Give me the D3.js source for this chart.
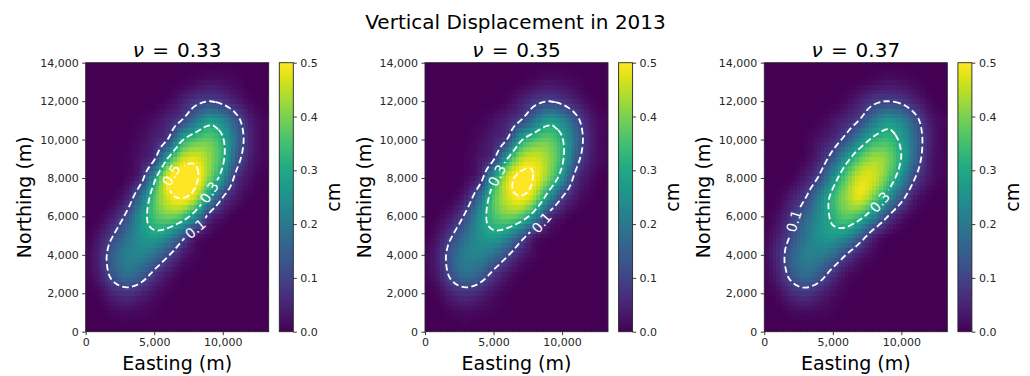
<!DOCTYPE html>
<html>
<head>
<meta charset="utf-8">
<script src="https://cdn.jsdelivr.net/npm/d3@7"></script>
<style>
  body { margin: 0; background: #fff; }
  svg { display: block; font-family: "DejaVu Sans", sans-serif; }
</style>
</head>
<body>
<div id="chart"></div>
<script>
// grid nodes every 1 km; rows listed from northing 14 km (top) down to 0 km
const eastingKm = [0, 1, 2, 3, 4, 5, 6, 7, 8, 9, 10, 11, 12, 13];
const northingKm = [14, 13, 12, 11, 10, 9, 8, 7, 6, 5, 4, 3, 2, 1, 0];

const poissonRatios = ["0.33", "0.35", "0.37"];

const displacementNu033 = [
	[0, 0, 0, 0, 0, 0, 0, 0, 0, 0, 0, 0, 0, 0],
	[0, 0, 0, 0, 0, 0, 0, 0.005, 0.015, 0.025, 0.02, 0.01, 0, 0],
	[0, 0, 0, 0, 0, 0, 0.01, 0.04, 0.08, 0.1, 0.08, 0.04, 0.01, 0],
	[0, 0, 0, 0, 0.005, 0.02, 0.05, 0.1, 0.19, 0.27, 0.23, 0.13, 0.04, 0.01],
	[0, 0, 0, 0.003, 0.015, 0.045, 0.1, 0.29, 0.36, 0.38, 0.31, 0.17, 0.05, 0.01],
	[0, 0, 0, 0.005, 0.03, 0.085, 0.31, 0.45, 0.48, 0.42, 0.32, 0.14, 0.04, 0.01],
	[0, 0, 0, 0.01, 0.06, 0.27, 0.49, 0.54, 0.52, 0.4, 0.25, 0.07, 0.02, 0],
	[0, 0, 0.005, 0.045, 0.18, 0.36, 0.47, 0.51, 0.45, 0.26, 0.1, 0.03, 0.005, 0],
	[0, 0.005, 0.04, 0.12, 0.25, 0.35, 0.39, 0.36, 0.24, 0.07, 0.02, 0, 0, 0],
	[0, 0.03, 0.1, 0.18, 0.25, 0.28, 0.24, 0.14, 0.04, 0.01, 0, 0, 0, 0],
	[0.01, 0.05, 0.15, 0.21, 0.22, 0.18, 0.11, 0.04, 0.01, 0, 0, 0, 0, 0],
	[0.005, 0.04, 0.13, 0.18, 0.15, 0.08, 0.03, 0.005, 0, 0, 0, 0, 0, 0],
	[0, 0.01, 0.05, 0.07, 0.05, 0.02, 0.005, 0, 0, 0, 0, 0, 0, 0],
	[0, 0, 0.01, 0.015, 0.01, 0.005, 0, 0, 0, 0, 0, 0, 0, 0],
	[0, 0, 0, 0, 0, 0, 0, 0, 0, 0, 0, 0, 0, 0],
];

const displacementNu035 = [
	[0, 0, 0, 0, 0, 0, 0, 0, 0, 0, 0, 0, 0, 0],
	[0, 0, 0, 0, 0, 0, 0, 0.005, 0.015, 0.025, 0.02, 0.01, 0, 0],
	[0, 0, 0, 0, 0, 0, 0.01, 0.04, 0.08, 0.1, 0.08, 0.04, 0.01, 0],
	[0, 0, 0, 0, 0.005, 0.02, 0.05, 0.1, 0.19, 0.27, 0.23, 0.13, 0.04, 0.01],
	[0, 0, 0, 0.003, 0.015, 0.045, 0.1, 0.29, 0.36, 0.38, 0.31, 0.17, 0.05, 0.01],
	[0, 0, 0, 0.005, 0.03, 0.085, 0.3, 0.44, 0.47, 0.42, 0.32, 0.14, 0.04, 0.01],
	[0, 0, 0, 0.01, 0.06, 0.27, 0.46, 0.52, 0.495, 0.4, 0.25, 0.07, 0.02, 0],
	[0, 0, 0.005, 0.045, 0.18, 0.36, 0.46, 0.5, 0.43, 0.25, 0.1, 0.03, 0.005, 0],
	[0, 0.005, 0.04, 0.12, 0.25, 0.35, 0.39, 0.36, 0.24, 0.07, 0.02, 0, 0, 0],
	[0, 0.03, 0.1, 0.18, 0.25, 0.28, 0.24, 0.14, 0.04, 0.01, 0, 0, 0, 0],
	[0.01, 0.05, 0.15, 0.21, 0.22, 0.18, 0.11, 0.04, 0.01, 0, 0, 0, 0, 0],
	[0.005, 0.04, 0.13, 0.18, 0.15, 0.08, 0.03, 0.005, 0, 0, 0, 0, 0, 0],
	[0, 0.01, 0.05, 0.07, 0.05, 0.02, 0.005, 0, 0, 0, 0, 0, 0, 0],
	[0, 0, 0.01, 0.015, 0.01, 0.005, 0, 0, 0, 0, 0, 0, 0, 0],
	[0, 0, 0, 0, 0, 0, 0, 0, 0, 0, 0, 0, 0, 0],
];

const displacementNu037 = [
	[0, 0, 0, 0, 0, 0, 0, 0, 0, 0, 0, 0, 0, 0],
	[0, 0, 0, 0, 0, 0, 0, 0.005, 0.015, 0.025, 0.02, 0.01, 0, 0],
	[0, 0, 0, 0, 0, 0, 0.015, 0.045, 0.085, 0.1, 0.085, 0.045, 0.01, 0],
	[0, 0, 0, 0, 0.005, 0.025, 0.055, 0.105, 0.2, 0.26, 0.22, 0.13, 0.04, 0.01],
	[0, 0, 0, 0.005, 0.025, 0.06, 0.13, 0.24, 0.32, 0.34, 0.28, 0.17, 0.05, 0.01],
	[0, 0, 0, 0.01, 0.05, 0.14, 0.27, 0.38, 0.43, 0.4, 0.3, 0.16, 0.04, 0.01],
	[0, 0, 0.005, 0.04, 0.11, 0.25, 0.38, 0.47, 0.46, 0.37, 0.24, 0.1, 0.03, 0.005],
	[0, 0.005, 0.04, 0.095, 0.21, 0.33, 0.42, 0.475, 0.39, 0.26, 0.13, 0.035, 0.005, 0],
	[0, 0.02, 0.08, 0.16, 0.24, 0.32, 0.37, 0.33, 0.22, 0.1, 0.03, 0.005, 0, 0],
	[0.005, 0.04, 0.11, 0.19, 0.25, 0.27, 0.24, 0.15, 0.05, 0.01, 0, 0, 0, 0],
	[0.01, 0.06, 0.15, 0.21, 0.21, 0.17, 0.095, 0.035, 0.01, 0, 0, 0, 0, 0],
	[0.005, 0.045, 0.13, 0.175, 0.14, 0.07, 0.02, 0.005, 0, 0, 0, 0, 0, 0],
	[0, 0.015, 0.055, 0.075, 0.05, 0.02, 0.005, 0, 0, 0, 0, 0, 0, 0],
	[0, 0, 0.01, 0.015, 0.01, 0.005, 0, 0, 0, 0, 0, 0, 0, 0],
	[0, 0, 0, 0, 0, 0, 0, 0, 0, 0, 0, 0, 0, 0],
];

const contourLevels = [0.1, 0.3, 0.5];
const colorbarTicks = [0, 0.1, 0.2, 0.3, 0.4, 0.5];
const eastingTicks = [0, 5000, 10000];
const northingTicks = [0, 2000, 4000, 6000, 8000, 10000, 12000, 14000];

// where matplotlib put the inline contour labels (easting, northing in m)
const labelSpotsNu033 = [
	{ level: 0.5, e: 6370, n: 8000 },
	{ level: 0.3, e: 9000, n: 7320 },
	{ level: 0.1, e: 8050, n: 5450 },
];
const labelSpotsNu035 = [
	{ level: 0.3, e: 5110, n: 8210 },
	{ level: 0.1, e: 8470, n: 5710 },
];
const labelSpotsNu037 = [
	{ level: 0.1, e: 2170, n: 5710 },
	{ level: 0.3, e: 8150, n: 6860 },
];

const panels = [
	{ nu: poissonRatios[0], grid: displacementNu033, labels: labelSpotsNu033 },
	{ nu: poissonRatios[1], grid: displacementNu035, labels: labelSpotsNu035 },
	{ nu: poissonRatios[2], grid: displacementNu037, labels: labelSpotsNu037 },
];

const width = 1030;
const height = 376;
const plotLeft0 = 85.7;
const panelStep = 339.3;
const plotWidth = 183;
const plotTop = 62.7;
const plotBottom = 331.7;
const eastingMax = 13350;
const fineStep = 250; // display resolution of the raster, m
const ink = "#262626";

const color = d3
	.scaleSequential(d3.interpolateViridis)
	.domain([0, 0.5])
	.clamp(true);

// bicubic resampling of the 1 km grid for display (imshow-like)
function catmull(p0, p1, p2, p3, t) {
	return (
		0.5 *
		(2 * p1 +
			(-p0 + p2) * t +
			(2 * p0 - 5 * p1 + 4 * p2 - p3) * t * t +
			(-p0 + 3 * p1 - 3 * p2 + p3) * t * t * t)
	);
}

function sampleGrid(rows, eKm, nKm) {
	const nCols = eastingKm.length;
	const nRows = northingKm.length;
	const at = (c, r) => {
		const cc = Math.max(0, Math.min(nCols - 1, c));
		const rr = Math.max(0, Math.min(nRows - 1, r));
		return rows[nRows - 1 - rr][cc];
	};
	const c0 = Math.floor(eKm);
	const r0 = Math.floor(nKm);
	const tc = eKm - c0;
	const tr = nKm - r0;
	const row = (r) =>
		catmull(at(c0 - 1, r), at(c0, r), at(c0 + 1, r), at(c0 + 2, r), tc);
	return Math.max(
		0,
		catmull(row(r0 - 1), row(r0), row(r0 + 1), row(r0 + 2), tr),
	);
}

// thin a dense contour ring to roughly even spacing so it can be drawn smooth
function thinRing(ring, spacing) {
	const out = [ring[0]];
	let last = ring[0];
	for (let i = 1; i < ring.length; i++) {
		if (Math.hypot(ring[i][0] - last[0], ring[i][1] - last[1]) >= spacing) {
			out.push(ring[i]);
			last = ring[i];
		}
	}
	return out.length > 4 ? out : ring;
}

const svg = d3
	.select("#chart")
	.append("svg")
	.attr("width", width)
	.attr("height", height)
	.attr("viewBox", `0 0 ${width} ${height}`);

const defs = svg.append("defs");
const gradient = defs
	.append("linearGradient")
	.attr("id", "viridis")
	.attr("x1", 0)
	.attr("y1", 1)
	.attr("x2", 0)
	.attr("y2", 0);
d3.range(0, 1.0001, 0.05).forEach((t) => {
	gradient
		.append("stop")
		.attr("offset", t)
		.attr("stop-color", d3.interpolateViridis(t));
});

svg
	.append("text")
	.attr("x", 515.5)
	.attr("y", 29.3)
	.attr("text-anchor", "middle")
	.attr("font-size", 20)
	.attr("fill", "#000")
	.text("Vertical Displacement in 2013");

function styleAxis(g) {
	g.select(".domain").remove();
	g.selectAll(".tick line").attr("stroke", ink).attr("stroke-width", 0.9);
	g.selectAll(".tick text")
		.attr("fill", ink)
		.attr("font-size", 11)
		.attr("font-family", '"DejaVu Sans", sans-serif');
}

panels.forEach((panel, k) => {
	const left = plotLeft0 + k * panelStep;
	const x = d3.scaleLinear().domain([0, eastingMax]).range([left, left + plotWidth]);
	const y = d3.scaleLinear().domain([0, 14000]).range([plotBottom, plotTop]);

	const nx = Math.ceil(eastingMax / fineStep) + 1;
	const ny = 14000 / fineStep + 1;
	const values = new Array(nx * ny);
	for (let j = 0; j < ny; j++) {
		for (let i = 0; i < nx; i++) {
			values[j * nx + i] = sampleGrid(
				panel.grid,
				(i * fineStep) / 1000,
				(j * fineStep) / 1000,
			);
		}
	}

	defs
		.append("clipPath")
		.attr("id", `clip-${k}`)
		.append("rect")
		.attr("x", left)
		.attr("y", plotTop)
		.attr("width", plotWidth)
		.attr("height", plotBottom - plotTop);

	const plot = svg.append("g").attr("clip-path", `url(#clip-${k})`);

	const cells = [];
	for (let j = 0; j < ny; j++) {
		for (let i = 0; i < nx; i++) cells.push({ i, j, v: values[j * nx + i] });
	}
	plot
		.append("g")
		.attr("shape-rendering", "crispEdges")
		.selectAll("rect")
		.data(cells)
		.join("rect")
		.attr("x", (d) => x((d.i - 0.5) * fineStep))
		.attr("y", (d) => y((d.j + 0.5) * fineStep))
		.attr("width", (d) => x((d.i + 0.5) * fineStep) - x((d.i - 0.5) * fineStep) + 0.4)
		.attr("height", (d) => y((d.j - 0.5) * fineStep) - y((d.j + 0.5) * fineStep) + 0.4)
		.attr("fill", (d) => color(d.v));

	// contours on the resampled grid
	const contours = d3.contours().size([nx, ny]).thresholds(contourLevels)(values);
	const toScreen = ([cx, cy]) => [
		x((cx - 0.5) * fineStep),
		y((cy - 0.5) * fineStep),
	];
	const rings = contours.map((c) => ({
		level: c.value,
		rings: c.coordinates.flatMap((poly) => poly.map((ring) => ring.map(toScreen))),
	}));

	// inline label placement
	const placed = panel.labels.map((spot) => {
		const target = [x(spot.e), y(spot.n)];
		const set = rings.find((r) => Math.abs(r.level - spot.level) < 1e-9);
		let best = null;
		set.rings.forEach((ring) => {
			ring.forEach((p, idx) => {
				const d = Math.hypot(p[0] - target[0], p[1] - target[1]);
				if (!best || d < best.d) best = { d, ring, idx };
			});
		});
		const { ring, idx } = best;
		const n = ring.length;
		const walk = (dir) => {
			let m = idx;
			for (let s = 0; s < n; s++) {
				m = (m + dir + n) % n;
				if (Math.hypot(ring[m][0] - ring[idx][0], ring[m][1] - ring[idx][1]) > 9) break;
			}
			return ring[m];
		};
		const a = walk(-1);
		const b = walk(1);
		let angle = (Math.atan2(b[1] - a[1], b[0] - a[0]) * 180) / Math.PI;
		if (angle > 90) angle -= 180;
		if (angle < -90) angle += 180;
		return { level: spot.level, pos: ring[idx], angle };
	});

	const mask = defs.append("mask").attr("id", `mask-${k}`).attr("maskUnits", "userSpaceOnUse");
	mask
		.append("rect")
		.attr("x", left - 5)
		.attr("y", plotTop - 5)
		.attr("width", plotWidth + 10)
		.attr("height", plotBottom - plotTop + 10)
		.attr("fill", "#fff");
	mask
		.selectAll("rect.hole")
		.data(placed)
		.join("rect")
		.attr("class", "hole")
		.attr("x", -14.5)
		.attr("y", -7)
		.attr("width", 29)
		.attr("height", 14)
		.attr("fill", "#000")
		.attr("transform", (d) => `translate(${d.pos[0]},${d.pos[1]}) rotate(${d.angle})`);

	const line = d3.line().curve(d3.curveBasisClosed);
	plot
		.append("g")
		.attr("mask", `url(#mask-${k})`)
		.selectAll("path")
		.data(rings.flatMap((r) => r.rings))
		.join("path")
		.attr("d", (ring) => line(thinRing(ring, 5)))
		.attr("fill", "none")
		.attr("stroke", "#fff")
		.attr("stroke-width", 1.8)
		.attr("stroke-dasharray", "6.5,3.3");

	plot
		.append("g")
		.selectAll("text")
		.data(placed)
		.join("text")
		.attr("transform", (d) => `translate(${d.pos[0]},${d.pos[1]}) rotate(${d.angle})`)
		.attr("text-anchor", "middle")
		.attr("dy", "0.36em")
		.attr("font-size", 14)
		.attr("fill", "#fff")
		.text((d) => d3.format(".1f")(d.level));

	svg
		.append("rect")
		.attr("x", left)
		.attr("y", plotTop)
		.attr("width", plotWidth)
		.attr("height", plotBottom - plotTop)
		.attr("fill", "none")
		.attr("stroke", ink)
		.attr("stroke-width", 0.9);

	svg
		.append("g")
		.attr("transform", `translate(0,${plotBottom})`)
		.call(
			d3
				.axisBottom(x)
				.tickValues(eastingTicks)
				.tickFormat(d3.format(","))
				.tickSize(3.5)
				.tickPadding(3.5),
		)
		.call(styleAxis);

	svg
		.append("g")
		.attr("transform", `translate(${left},0)`)
		.call(
			d3
				.axisLeft(y)
				.tickValues(northingTicks)
				.tickFormat(d3.format(","))
				.tickSize(3.5)
				.tickPadding(3.5),
		)
		.call(styleAxis);

	// mathtext-like title: italic nu, a roomy "=" and the ratio
	const title = svg
		.append("text")
		.attr("x", left + plotWidth / 2)
		.attr("y", 57.3)
		.attr("text-anchor", "middle")
		.attr("font-size", 20)
		.attr("fill", "#000");
	title.append("tspan").attr("font-style", "italic").text("ν");
	title.append("tspan").attr("dx", 2).text(" = ");
	title.append("tspan").attr("dx", 1.5).text(panel.nu);

	svg
		.append("text")
		.attr("x", left + plotWidth / 2)
		.attr("y", 369.5)
		.attr("text-anchor", "middle")
		.attr("font-size", 19)
		.attr("fill", "#000")
		.text("Easting (m)");

	svg
		.append("text")
		.attr("transform", `translate(${left - 54.5},${(plotTop + plotBottom) / 2}) rotate(-90)`)
		.attr("text-anchor", "middle")
		.attr("font-size", 19)
		.attr("fill", "#000")
		.text("Northing (m)");

	// colorbar
	const barLeft = left + 193.6;
	const barWidth = 14;
	const c = d3.scaleLinear().domain([0, 0.5]).range([plotBottom, plotTop]);
	svg
		.append("rect")
		.attr("x", barLeft)
		.attr("y", plotTop)
		.attr("width", barWidth)
		.attr("height", plotBottom - plotTop)
		.attr("fill", "url(#viridis)")
		.attr("stroke", ink)
		.attr("stroke-width", 0.9);
	svg
		.append("g")
		.attr("transform", `translate(${barLeft + barWidth},0)`)
		.call(
			d3
				.axisRight(c)
				.tickValues(colorbarTicks)
				.tickFormat(d3.format(".1f"))
				.tickSize(3.5)
				.tickPadding(3.5),
		)
		.call(styleAxis);
	svg
		.append("text")
		.attr("transform", `translate(${left + 254.3},${(plotTop + plotBottom) / 2}) rotate(-90)`)
		.attr("text-anchor", "middle")
		.attr("font-size", 19)
		.attr("fill", "#000")
		.text("cm");
});
</script>
</body>
</html>
